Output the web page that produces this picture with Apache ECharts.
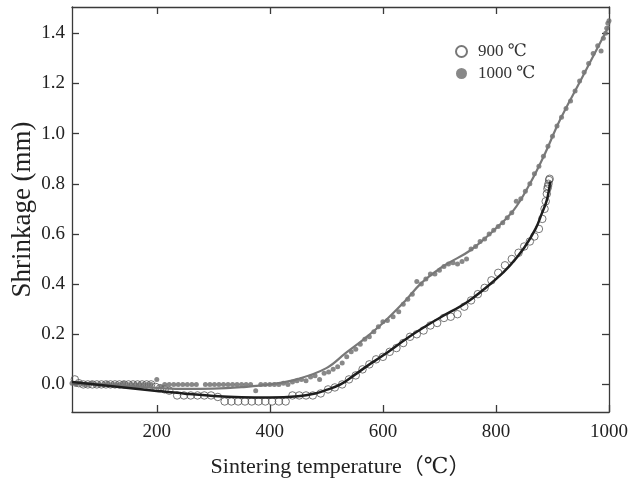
<!DOCTYPE html>
<html>
<head>
<meta charset="utf-8">
<script src="https://cdn.jsdelivr.net/npm/echarts@6/dist/echarts.min.js"></script>
<style>html,body{margin:0;padding:0;background:#fff}#c{width:644px;height:483px}</style>
</head>
<body>
<div id="c"></div>
<script>
// ---- data ----
var xTicks = [200, 400, 600, 800, 1000];
var yTicks = [0, 0.2, 0.4, 0.6, 0.8, 1.0, 1.2, 1.4];

var temp900 = [55,62,70,78,86,94,102,110,118,126,134,142,150,158,166,174,182,190,198,206,214,222,236,248,260,272,284,296,308,320,332,344,356,368,380,392,404,416,428,440,452,464,476,490,503,515,528,540,552,564,576,588,600,612,624,636,648,660,672,684,696,708,720,732,744,756,768,780,792,804,816,828,840,850,860,868,876,882,886,888,890,891,892,893,894,895];
var shrink900 = [0.02,0.005,0.0,0.0,0.0,0.0,0.0,0.0,0.0,0.0,0.0,0.0,0.0,0.0,0.0,0.0,0.0,0.0,-0.01,-0.015,-0.02,-0.025,-0.044,-0.044,-0.044,-0.044,-0.044,-0.044,-0.05,-0.068,-0.068,-0.068,-0.068,-0.068,-0.068,-0.068,-0.068,-0.068,-0.068,-0.044,-0.044,-0.044,-0.044,-0.036,-0.02,-0.012,0.0,0.02,0.036,0.06,0.08,0.1,0.11,0.13,0.145,0.165,0.19,0.2,0.215,0.235,0.245,0.265,0.27,0.28,0.31,0.335,0.36,0.385,0.415,0.445,0.475,0.50,0.525,0.55,0.57,0.59,0.62,0.66,0.70,0.73,0.76,0.78,0.79,0.80,0.815,0.82];

var temp1000 = [50,57,64,71,78,85,92,99,106,113,120,127,134,141,148,155,162,169,176,183,190,200,207,214,222,230,238,246,254,262,270,286,294,302,310,318,326,334,342,350,358,366,375,384,392,400,408,416,424,432,440,448,456,464,472,480,488,496,504,512,520,528,536,544,552,560,568,576,584,592,600,608,618,628,636,644,652,660,668,676,684,692,700,708,716,724,732,740,748,756,764,772,780,788,796,804,812,820,828,836,844,852,860,868,876,884,892,900,908,916,924,932,940,948,956,964,972,980,986,990,994,996,998,1000];
var shrink1000 = [0.005,0.0,0.005,0.0,0.0,0.005,0.0,0.0,0.0,0.005,0.0,0.0,0.0,0.005,0.0,0.0,0.0,0.0,0.0,0.0,0.0,0.02,-0.01,0.0,0.0,0.0,0.0,0.0,0.0,0.0,0.0,0.0,0.0,0.0,0.0,0.0,0.0,0.0,0.0,0.0,0.0,0.0,-0.025,0.0,0.0,0.0,0.0,0.0,0.005,0.0,0.01,0.015,0.02,0.015,0.03,0.035,0.02,0.045,0.05,0.06,0.07,0.085,0.11,0.13,0.14,0.16,0.18,0.19,0.21,0.23,0.25,0.255,0.27,0.29,0.32,0.34,0.36,0.41,0.40,0.42,0.44,0.44,0.455,0.47,0.48,0.485,0.48,0.49,0.50,0.54,0.55,0.57,0.58,0.60,0.615,0.63,0.645,0.665,0.685,0.73,0.74,0.77,0.80,0.84,0.87,0.91,0.95,0.99,1.03,1.065,1.10,1.13,1.17,1.21,1.245,1.28,1.32,1.35,1.33,1.38,1.40,1.42,1.44,1.45];

var fitT900 = [50,100,150,200,250,300,350,400,450,480,500,525,550,575,600,650,700,750,800,825,850,870,880,890,896];
var fitS900 = [0.010,-0.002,-0.014,-0.026,-0.037,-0.046,-0.051,-0.052,-0.047,-0.036,-0.022,0.0,0.038,0.078,0.115,0.195,0.265,0.33,0.42,0.475,0.545,0.62,0.675,0.735,0.81];

var fitT1000 = [50,100,150,200,250,300,350,400,450,500,534,566,600,640,666,690,713,755,796,831,860,884,913,950,1000];
var fitS1000 = [0.008,0.0,-0.008,-0.014,-0.018,-0.017,-0.011,0.0,0.022,0.065,0.125,0.18,0.245,0.335,0.40,0.445,0.48,0.535,0.614,0.694,0.80,0.907,1.053,1.213,1.43];

function pairs(a, b) { return a.map(function (v, i) { return [v, b[i]]; }); }

var serif = '"Liberation Serif","DejaVu Serif","Noto Sans CJK SC",serif';
var frame = '#3a3a3a';

var chart = echarts.init(document.getElementById('c'), null, {renderer: 'canvas'});
chart.setOption({
  animation: false,
  backgroundColor: '#fff',
  grid: {left: 72, right: 35, top: 7, bottom: 71, containLabel: false, outerBoundsMode: 'none'},
  legend: {
    orient: 'vertical', left: 450, top: 38, itemWidth: 11, itemHeight: 11, itemGap: 5,
    data: ['900 ℃', '1000 ℃'],
    textStyle: {fontFamily: serif, fontSize: 17, color: '#333', padding: [0, 0, 0, 6]}
  },
  xAxis: [{
    type: 'value', min: 50, max: 1000, position: 'bottom',
    name: 'Sintering temperature（℃）', nameLocation: 'middle', nameGap: 44,
    nameTextStyle: {fontFamily: serif, fontSize: 22, color: '#222'},
    axisLine: {show: true, onZero: false, lineStyle: {color: frame, width: 1.3}},
    axisTick: {show: true, inside: true, length: 7, customValues: xTicks, lineStyle: {color: frame, width: 1.3}},
    axisLabel: {customValues: xTicks, fontFamily: serif, fontSize: 19, color: '#222', margin: 11,
      formatter: function (v) { return String(v); }},
    splitLine: {show: false}
  }, {
    type: 'value', min: 50, max: 1000, position: 'top',
    axisLine: {show: true, onZero: false, lineStyle: {color: frame, width: 1.3}},
    axisTick: {show: true, inside: true, length: 7, customValues: xTicks, lineStyle: {color: frame, width: 1.3}},
    axisLabel: {show: false}, splitLine: {show: false}
  }],
  yAxis: [{
    type: 'value', min: -0.11, max: 1.505, position: 'left',
    name: 'Shrinkage (mm)', nameLocation: 'middle', nameGap: 36, nameRotate: 90, nameMoveOverlap: false,
    nameTextStyle: {fontFamily: serif, fontSize: 27, color: '#222'},
    axisLine: {show: true, onZero: false, lineStyle: {color: frame, width: 1.3}},
    axisTick: {show: true, inside: true, length: 7, customValues: yTicks, lineStyle: {color: frame, width: 1.3}},
    axisLabel: {customValues: yTicks, fontFamily: serif, fontSize: 19, color: '#222', margin: 7,
      formatter: function (v) { return v.toFixed(1); }},
    splitLine: {show: false}
  }, {
    type: 'value', min: -0.11, max: 1.505, position: 'right',
    axisLine: {show: true, onZero: false, lineStyle: {color: frame, width: 1.3}},
    axisTick: {show: true, inside: true, length: 7, customValues: yTicks, lineStyle: {color: frame, width: 1.3}},
    axisLabel: {show: false}, splitLine: {show: false}
  }],
  series: [{
    name: '900 ℃', type: 'scatter', symbol: 'circle', symbolSize: 7.5, z: 2,
    itemStyle: {color: 'rgba(255,255,255,0)', borderColor: '#555', borderWidth: 1},
    data: pairs(temp900, shrink900)
  }, {
    name: '1000 ℃', type: 'scatter', symbol: 'circle', symbolSize: 5, z: 2,
    itemStyle: {color: '#6a6a6a'},
    data: pairs(temp1000, shrink1000)
  }, {
    name: 'fit1000', type: 'line', smooth: 0.4, showSymbol: false, z: 3,
    lineStyle: {color: '#787878', width: 2.2},
    data: pairs(fitT1000, fitS1000)
  }, {
    name: 'fit900', type: 'line', smooth: 0.4, showSymbol: false, z: 4,
    lineStyle: {color: '#1e1e1e', width: 2.5},
    data: pairs(fitT900, fitS900)
  }]
});
</script>
</body>
</html>
